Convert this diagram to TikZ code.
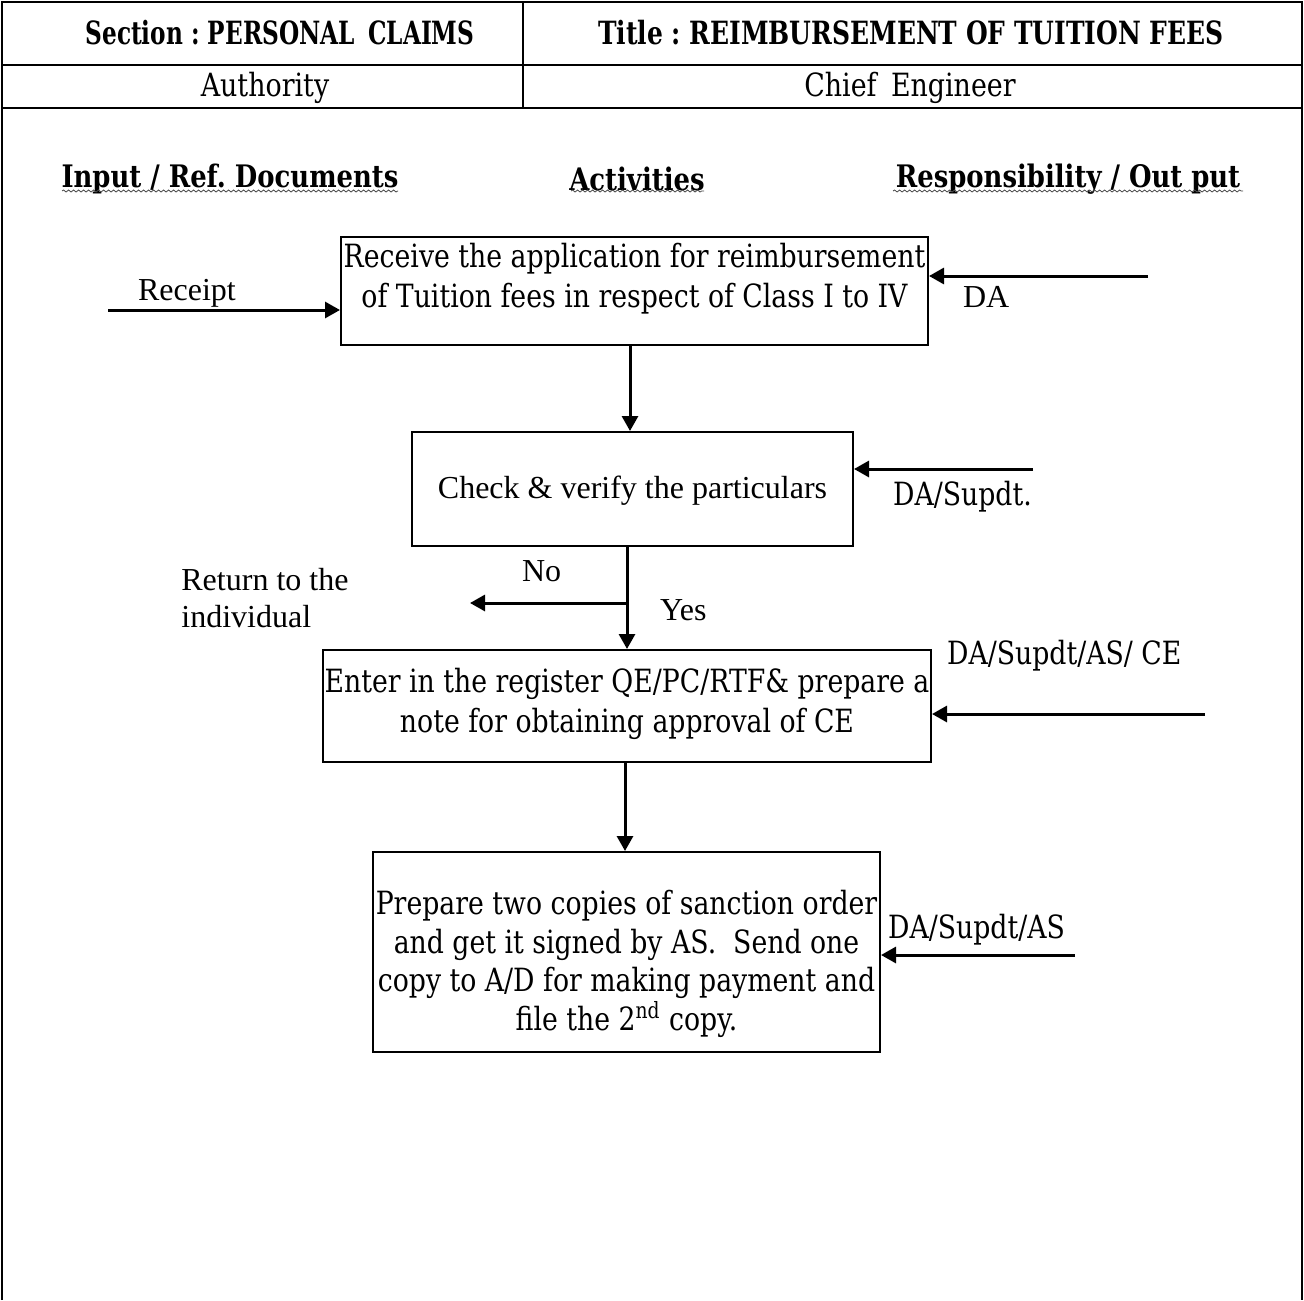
\documentclass[tikz,border=0pt]{standalone}
\usepackage{fontspec}
\usetikzlibrary{arrows.meta,decorations.pathmorphing}
\setmainfont{Liberation Serif}
\newfontfamily\cam[FakeStretch=0.835]{DejaVu Serif}
\newfontfamily\camcell[FakeStretch=0.84]{DejaVu Serif}
\newfontfamily\camhead[FakeStretch=0.78]{DejaVu Serif}
\frenchspacing
\begin{document}
\begin{tikzpicture}[x=0.5pt,y=-0.5pt,
  frame/.style={line width=1.2pt},
  stepbox/.style={draw,line width=1pt,inner sep=0pt},
  arr/.style={line width=1.5pt,-{Triangle[length=7.5pt,width=8pt]}},
  headtxt/.style={font=\camhead\bfseries\fontsize{16}{19}\selectfont},
  celltxt/.style={font=\camcell\fontsize{16}{19}\selectfont},
  coltxt/.style={font=\cam\bfseries\fontsize{15.5}{19}\selectfont},
  camtxt/.style={font=\cam\fontsize{16}{20}\selectfont},
  steptxt/.style={camtxt,align=center,inner sep=0pt},
  tmtxt/.style={font=\fontsize{16}{18.5}\selectfont},
  wavy/.style={draw=black!70,line width=0.4pt,decorate,decoration={snake,amplitude=0.5pt,segment length=2.5pt}}
]
\useasboundingbox (0,0) rectangle (1304,1300);
\fill[white] (0,0) rectangle (1304,1300);

% outer frame (open at the bottom) and header table
\draw[frame] (2,1300) -- (2,2) -- (1302,2) -- (1302,1300);
\draw[frame] (2,65) -- (1302,65);
\draw[frame] (2,108) -- (1302,108);
\draw[frame] (523,2) -- (523,108);

\node[headtxt] (sec) at (280,33) {\scalebox{0.93}[1]{Section : PERSONAL\hspace{0.45em}CLAIMS}};
\node[headtxt] (ttl) at (911,33) {Title : REIMBURSEMENT OF TUITION FEES};
\node[celltxt] (auth) at (265,88) {Authority};
\node[celltxt] (ce) at (910,88) {Chief\hspace{0.45em}Engineer};

% column headings
\node[coltxt] (hin) at (230,179) {Input / Ref. Documents};
\node[coltxt] (hact) at (637,179) {Activities};
\node[coltxt] (hres) at (1068,179) {Responsibility / Out put};
\draw[wavy] (62,191) -- (398,191);
\draw[wavy] (571,191) -- (704,191);
\draw[wavy] (893,191) -- (1243,191);

% process steps: frames, then their texts
\node[stepbox,minimum width=293.5pt,minimum height=54pt] (s1) at (634.5,291) {};
\node[steptxt] (s1t) at (634.5,279)
  {Receive the application for reimbursement\\of Tuition fees in respect of Class I to IV};
\node[stepbox,minimum width=220.5pt,minimum height=57pt] (s2) at (632.5,489) {};
\node[tmtxt,inner sep=0pt] (s2t) at (632.5,491) {Check \& verify the particulars};
\node[stepbox,minimum width=304pt,minimum height=56pt] (s3) at (627,706) {};
\node[steptxt] (s3t) at (627,704)
  {Enter in the register QE/PC/RTF\& prepare a\\note for obtaining approval of CE};
\node[stepbox,minimum width=253.5pt,minimum height=100pt] (s4) at (626.5,952) {};
\node[steptxt,font=\cam\fontsize{16}{19.35}\selectfont] (s4t) at (626.5,964)
  {Prepare two copies of sanction order\\and get it signed by AS.\ \ Send one\\copy to A/D for making payment and\\file the 2\textsuperscript{nd} copy.};

% flow between steps
\coordinate (c1) at (630,0);
\draw[arr] (c1 |- s1.south) -- (c1 |- s2.north);
\coordinate (yes) at (627,603);
\coordinate (ret) at (470,603);
\draw[arr] (yes |- s2.south) -- (yes |- s3.north);
\draw[arr] (yes) -- (ret);
\coordinate (c3) at (625,0);
\draw[arr] (c3 |- s3.south) -- (c3 |- s4.north);

\node[tmtxt,anchor=west] (no) at (515,571) {No};
\node[tmtxt,anchor=west] (yl) at (653,610) {Yes};
\node[tmtxt,anchor=north west,align=left,inner sep=0pt] (rt) at (181,568) {Return to the\\individual};

% inputs
\coordinate (rc) at (108,310);
\draw[arr] (rc) -- (rc -| s1.west);
\node[tmtxt,anchor=west] (rcl) at (131,293) {Receipt};

% responsibilities
\coordinate (r1) at (1148,276);
\draw[arr] (r1) -- (r1 -| s1.east);
\node[tmtxt,anchor=west] (r1l) at (956,297) {DA};

\coordinate (r2) at (1033,469);
\draw[arr] (r2) -- (r2 -| s2.east);
\node[camtxt,anchor=west] (r2l) at (886,497) {DA/Supdt.};

\coordinate (r3) at (1205,714);
\draw[arr] (r3) -- (r3 -| s3.east);
\node[camtxt,anchor=west] (r3l) at (940,656) {DA/Supdt/AS/ CE};

\coordinate (r4) at (1075,955);
\draw[arr] (r4) -- (r4 -| s4.east);
\node[camtxt,anchor=west] (r4l) at (881,930) {DA/Supdt/AS};
\end{tikzpicture}
\end{document}
